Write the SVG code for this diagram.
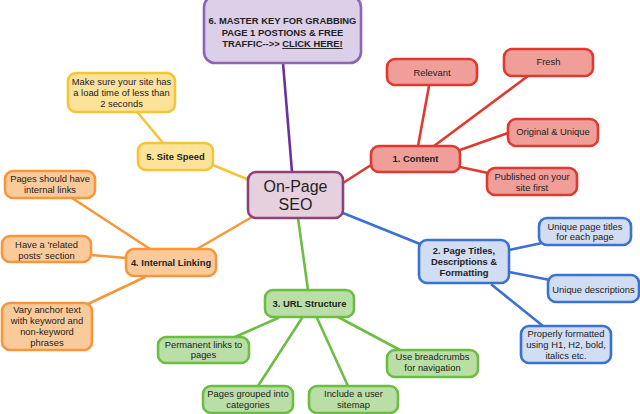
<svg xmlns="http://www.w3.org/2000/svg" width="640" height="414" viewBox="0 0 640 414">
<style>
text{font-family:"Liberation Sans",Arial,sans-serif;font-size:9.4px;fill:#222;text-anchor:middle}
.b{font-weight:bold}
rect{stroke-width:2.6}
line{stroke-width:2.6;stroke-linecap:round}
.pu rect{fill:#dcd0e8;stroke:#8e63b8}
.ce rect{fill:#e7d0de;stroke:#8c437a}
.ye rect{fill:#fde39a;stroke:#f5c536}
.or rect{fill:#fbca9b;stroke:#f8963a}
.re rect{fill:#f09e99;stroke:#e03a30}
.bl rect{fill:#d0ddf2;stroke:#3b71d1}
.gr rect{fill:#b9dfa6;stroke:#6dbd45}
</style>
<g id="connectors">
<line x1="283" y1="63" x2="292" y2="172" stroke="#6b2fa0"/>
<line x1="138" y1="113" x2="163" y2="143" stroke="#f5c536"/>
<line x1="213" y1="165" x2="249" y2="180" stroke="#f5c536"/>
<line x1="72" y1="198" x2="150" y2="249" stroke="#f8963a"/>
<line x1="91" y1="255" x2="126" y2="258" stroke="#f8963a"/>
<line x1="88" y1="304" x2="145" y2="277" stroke="#f8963a"/>
<line x1="197" y1="249" x2="252" y2="217" stroke="#f8963a"/>
<line x1="429" y1="86" x2="418" y2="146" stroke="#e03a30"/>
<line x1="528" y1="76" x2="434" y2="146" stroke="#e03a30"/>
<line x1="508" y1="133" x2="460" y2="150" stroke="#e03a30"/>
<line x1="488" y1="173" x2="460" y2="167" stroke="#e03a30"/>
<line x1="343" y1="183" x2="371" y2="165" stroke="#e03a30"/>
<line x1="343" y1="213" x2="420" y2="244" stroke="#3b71d1"/>
<line x1="509" y1="250" x2="542" y2="243" stroke="#3b71d1"/>
<line x1="509" y1="272" x2="550" y2="280" stroke="#3b71d1"/>
<line x1="492" y1="285" x2="543" y2="326" stroke="#3b71d1"/>
<line x1="298" y1="218" x2="308" y2="290" stroke="#6dbd45"/>
<line x1="278" y1="318" x2="235" y2="337" stroke="#6dbd45"/>
<line x1="302" y1="318" x2="258" y2="386" stroke="#6dbd45"/>
<line x1="317" y1="318" x2="348" y2="386" stroke="#6dbd45"/>
<line x1="338" y1="317" x2="400" y2="350" stroke="#6dbd45"/>
</g>
<g id="master-key" class="pu">
<rect x="204" y="-4" width="157" height="67" rx="11"/>
<text class="b" x="282.5" y="24">6. MASTER KEY FOR GRABBING</text>
<text class="b" x="282.5" y="35.5">PAGE 1 POSTIONS &amp; FREE</text>
<text class="b" x="282.5" y="47">TRAFFIC--&gt;&gt; <tspan text-decoration="underline">CLICK HERE!</tspan></text>
</g>
<g id="center" class="ce">
<rect x="248" y="172" width="95" height="46" rx="8" stroke-width="3"/>
<text x="295.5" y="192" style="font-size:16px">On-Page</text>
<text x="295.5" y="209.5" style="font-size:16px">SEO</text>
</g>
<g id="load-time" class="ye">
<rect x="68" y="73" width="107" height="39" rx="8"/>
<text x="121.5" y="85">Make sure your site has</text>
<text x="121.5" y="95.8">a load time of less than</text>
<text x="121.5" y="106.5">2 seconds</text>
</g>
<g id="site-speed" class="ye">
<rect x="138" y="143" width="75" height="27" rx="8"/>
<text class="b" x="175.5" y="160">5. Site Speed</text>
</g>
<g id="internal-links" class="or">
<rect x="5" y="171" width="90" height="27" rx="8"/>
<text x="50" y="181.5">Pages should have</text>
<text x="50" y="192.5">internal links</text>
</g>
<g id="related-posts" class="or">
<rect x="2" y="236" width="89" height="26" rx="8"/>
<text x="46.5" y="247.5">Have a 'related</text>
<text x="46.5" y="258.5">posts' section</text>
</g>
<g id="internal-linking" class="or">
<rect x="126" y="249" width="90" height="27" rx="8"/>
<text class="b" x="171" y="265.5">4. Internal Linking</text>
</g>
<g id="anchor-text" class="or">
<rect x="2" y="303" width="90" height="47" rx="8"/>
<text x="47" y="312.5">Vary anchor text</text>
<text x="47" y="324">with keyword and</text>
<text x="47" y="335">non-keyword</text>
<text x="47" y="346">phrases</text>
</g>
<g id="relevant" class="re">
<rect x="387" y="59" width="90" height="26" rx="8"/>
<text x="432" y="75.5">Relevant</text>
</g>
<g id="fresh" class="re">
<rect x="504" y="49" width="89" height="27" rx="8"/>
<text x="548.5" y="65">Fresh</text>
</g>
<g id="original" class="re">
<rect x="508" y="119" width="90" height="27" rx="8"/>
<text x="553" y="135">Original &amp; Unique</text>
</g>
<g id="content" class="re">
<rect x="371" y="146" width="89" height="26" rx="8"/>
<text class="b" x="415.5" y="161.5">1. Content</text>
</g>
<g id="published" class="re">
<rect x="487" y="168" width="90" height="27" rx="8"/>
<text x="532" y="180">Published on your</text>
<text x="532" y="190.5">site first</text>
</g>
<g id="page-titles" class="bl">
<rect x="419" y="240" width="90" height="43" rx="8"/>
<text class="b" x="464" y="254">2. Page Titles,</text>
<text class="b" x="464" y="265">Descriptions &amp;</text>
<text class="b" x="464" y="275.5">Formatting</text>
</g>
<g id="unique-titles" class="bl">
<rect x="539" y="218" width="92" height="27" rx="8"/>
<text x="585" y="229.5">Unique page titles</text>
<text x="585" y="240">for each page</text>
</g>
<g id="unique-desc" class="bl">
<rect x="548" y="275" width="91" height="27" rx="8"/>
<text x="593.5" y="292.5">Unique descriptions</text>
</g>
<g id="formatted" class="bl">
<rect x="521" y="326" width="90" height="37" rx="8"/>
<text x="566" y="336.5">Properly formatted</text>
<text x="566" y="347.5">using H1, H2, bold,</text>
<text x="566" y="358.5">italics etc.</text>
</g>
<g id="url-structure" class="gr">
<rect x="265" y="290" width="89" height="27" rx="8"/>
<text class="b" x="309.5" y="306.5">3. URL Structure</text>
</g>
<g id="permanent" class="gr">
<rect x="158" y="337" width="91" height="26" rx="8"/>
<text x="203.5" y="347.5">Permanent links to</text>
<text x="203.5" y="357.5">pages</text>
</g>
<g id="grouped" class="gr">
<rect x="203" y="386" width="90" height="27" rx="8"/>
<text x="248" y="396.5">Pages grouped into</text>
<text x="248" y="407.5">categories</text>
</g>
<g id="sitemap" class="gr">
<rect x="309" y="386" width="89" height="27" rx="8"/>
<text x="353.5" y="396.5">Include a user</text>
<text x="353.5" y="407.5">sitemap</text>
</g>
<g id="breadcrumbs" class="gr">
<rect x="387" y="350" width="91" height="27" rx="8"/>
<text x="432.5" y="360">Use breadcrumbs</text>
<text x="432.5" y="370.5">for navigation</text>
</g>
</svg>
